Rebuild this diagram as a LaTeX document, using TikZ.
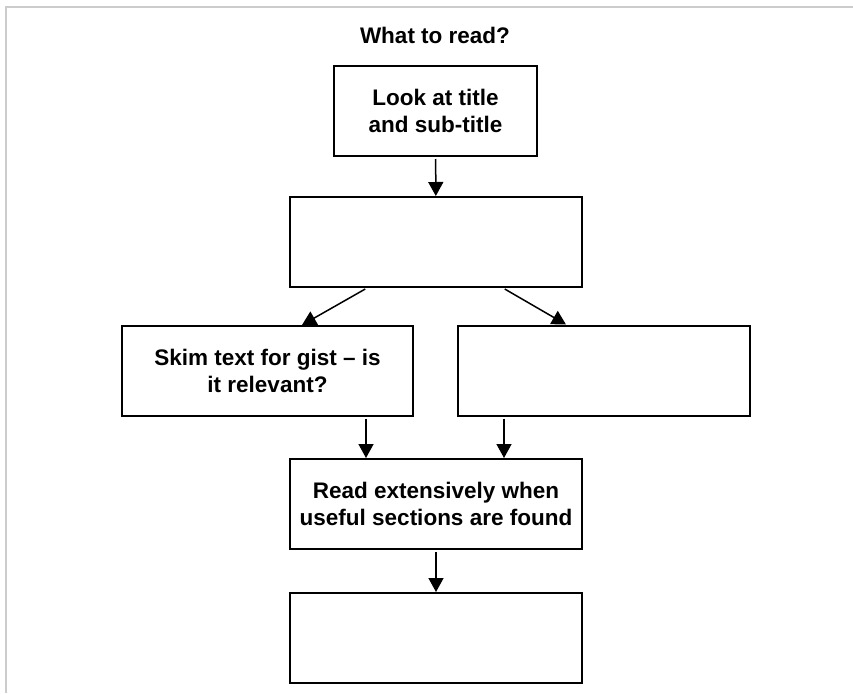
\documentclass[tikz,border=0pt]{standalone}
\usepackage{fontspec}
\setmainfont{Liberation Sans}
\usetikzlibrary{arrows.meta}

\begin{document}
\begin{tikzpicture}[x=1pt,y=-1pt,
		box/.style={draw, line width=2pt, minimum width=292pt, minimum height=90pt, inner sep=0pt, align=center, font=\bfseries\fontsize{22.5}{27}\selectfont},
		arr/.style={-{Triangle[length=14pt,width=15pt]}, line width=1.5pt, shorten <=2pt}]
		\useasboundingbox (0,0) rectangle (853,693);
		\draw[line width=2pt, black!20](6,693) -- (6,7) -- (853,7);
		\node[font=\bfseries\fontsize{22.5}{27}\selectfont] (title) at (435,35) {What to read?};
		\node[box, minimum width=203pt] (look) at (435.5,111) {Look at title\\and sub-title};
		\node[box] (decide) at (436,242) {};
		\node[box, minimum width=291pt] (skim) at (267.5,371) {Skim text for gist – is\\it relevant?};
		\node[box] (other) at (604,370.5) {};
		\node[box] (read) at (436,504) {Read extensively when\\useful sections are found};
		\node[box] (last) at (436,638) {};
		\draw[arr](look) -- (decide);
		\draw[arr]([xshift=-69pt]decide.south) -- ([xshift=34.5pt]skim.north);
		\draw[arr]([xshift=67pt]decide.south) -- ([xshift=-38pt]other.north);
		\draw[arr]([xshift=98.5pt]skim.south) -- ([xshift=-70pt]read.north);
		\draw[arr]([xshift=-100pt]other.south) -- ([xshift=68pt]read.north);
		\draw[arr](read) -- (last);
		%los cuadros vacios quedan sin texto
	\end{tikzpicture}
\end{document}
